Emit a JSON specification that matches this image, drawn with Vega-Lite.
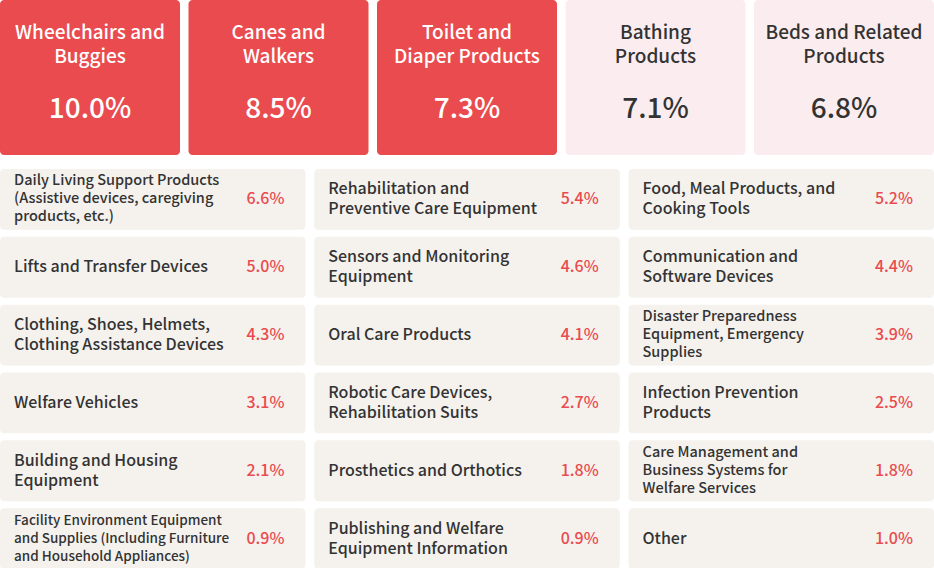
{
  "$schema": "https://vega.github.io/schema/vega-lite/v6.json",
  "padding": 0,
  "spacing": 13,
  "background": "#ffffff",
  "config": {"view": {"stroke": null}, "font": "Noto Sans CJK JP"},
  "datasets": {
    "top": [
      {"rank": 1, "label": "Wheelchairs and\nBuggies", "share": 0.100, "tier": "top3"},
      {"rank": 2, "label": "Canes and\nWalkers", "share": 0.085, "tier": "top3"},
      {"rank": 3, "label": "Toilet and\nDiaper Products", "share": 0.073, "tier": "top3"},
      {"rank": 4, "label": "Bathing\nProducts", "share": 0.071, "tier": "next"},
      {"rank": 5, "label": "Beds and Related\nProducts", "share": 0.068, "tier": "next"}
    ],
    "grid": [
      {"row": 1, "col": 1, "label": "Daily Living Support Products\n(Assistive devices, caregiving\nproducts, etc.)", "share": 0.066},
      {"row": 1, "col": 2, "label": "Rehabilitation and\nPreventive Care Equipment", "share": 0.054},
      {"row": 1, "col": 3, "label": "Food, Meal Products, and\nCooking Tools", "share": 0.052},
      {"row": 2, "col": 1, "label": "Lifts and Transfer Devices", "share": 0.050},
      {"row": 2, "col": 2, "label": "Sensors and Monitoring\nEquipment", "share": 0.046},
      {"row": 2, "col": 3, "label": "Communication and\nSoftware Devices", "share": 0.044},
      {"row": 3, "col": 1, "label": "Clothing, Shoes, Helmets,\nClothing Assistance Devices", "share": 0.043},
      {"row": 3, "col": 2, "label": "Oral Care Products", "share": 0.041},
      {"row": 3, "col": 3, "label": "Disaster Preparedness\nEquipment, Emergency\nSupplies", "share": 0.039},
      {"row": 4, "col": 1, "label": "Welfare Vehicles", "share": 0.031},
      {"row": 4, "col": 2, "label": "Robotic Care Devices,\nRehabilitation Suits", "share": 0.027},
      {"row": 4, "col": 3, "label": "Infection Prevention\nProducts", "share": 0.025},
      {"row": 5, "col": 1, "label": "Building and Housing\nEquipment", "share": 0.021},
      {"row": 5, "col": 2, "label": "Prosthetics and Orthotics", "share": 0.018},
      {"row": 5, "col": 3, "label": "Care Management and\nBusiness Systems for\nWelfare Services", "share": 0.018},
      {"row": 6, "col": 1, "label": "Facility Environment Equipment\nand Supplies (Including Furniture\nand Household Appliances)", "share": 0.009},
      {"row": 6, "col": 2, "label": "Publishing and Welfare\nEquipment Information", "share": 0.009},
      {"row": 6, "col": 3, "label": "Other", "share": 0.010}
    ]
  },
  "vconcat": [
    {
      "width": 934,
      "height": 155,
      "data": {"name": "top"},
      "encoding": {
        "x": {"field": "rank", "type": "ordinal", "axis": null, "scale": {"paddingInner": 0.045, "paddingOuter": 0}}
      },
      "layer": [
        {
          "mark": {"type": "rect", "cornerRadius": 4},
          "encoding": {
            "color": {"condition": {"test": "datum.tier == 'top3'", "value": "#E94B4E"}, "value": "#FBEDEF"}
          }
        },
        {
          "mark": {"type": "text", "baseline": "middle", "align": "center", "dy": -45, "fontSize": 19, "lineHeight": 24, "lineBreak": "\n", "fontWeight": 500},
          "encoding": {
            "text": {"field": "label"},
            "color": {"condition": {"test": "datum.tier == 'top3'", "value": "#ffffff"}, "value": "#333333"}
          }
        },
        {
          "mark": {"type": "text", "baseline": "middle", "align": "center", "dy": 32, "fontSize": 28, "fontWeight": 500},
          "encoding": {
            "text": {"field": "share", "type": "quantitative", "format": ".1%"},
            "color": {"condition": {"test": "datum.tier == 'top3'", "value": "#ffffff"}, "value": "#333333"}
          }
        }
      ]
    },
    {
      "width": 934,
      "height": 400,
      "data": {"name": "grid"},
      "encoding": {
        "x": {"field": "col", "type": "ordinal", "axis": null, "scale": {"paddingInner": 0.028, "paddingOuter": 0}},
        "y": {"field": "row", "type": "ordinal", "axis": null, "scale": {"paddingInner": 0.103, "paddingOuter": 0}}
      },
      "layer": [
        {
          "mark": {"type": "rect", "cornerRadius": 4, "color": "#F5F2EE"}
        },
        {
          "transform": [{"filter": "length(split(datum.label, '\\n')) == 1"}],
          "mark": {"type": "text", "align": "left", "baseline": "middle", "dx": 14, "fontSize": 16, "lineHeight": 20, "lineBreak": "\n", "fontWeight": 500, "color": "#333333"},
          "encoding": {
            "x": {"field": "col", "type": "ordinal", "bandPosition": 0},
            "text": {"field": "label"}
          }
        },
        {
          "transform": [{"filter": "length(split(datum.label, '\\n')) == 2"}],
          "mark": {"type": "text", "align": "left", "baseline": "middle", "dx": 14, "dy": -10, "fontSize": 16, "lineHeight": 20, "lineBreak": "\n", "fontWeight": 500, "color": "#333333"},
          "encoding": {
            "x": {"field": "col", "type": "ordinal", "bandPosition": 0},
            "text": {"field": "label"}
          }
        },
        {
          "transform": [{"filter": "length(split(datum.label, '\\n')) >= 3"}],
          "mark": {"type": "text", "align": "left", "baseline": "middle", "dx": 14, "dy": -18, "lineHeight": 18, "lineBreak": "\n", "fontWeight": 500, "color": "#333333"},
          "encoding": {
            "x": {"field": "col", "type": "ordinal", "bandPosition": 0},
            "text": {"field": "label"},
            "size": {"condition": {"test": "indexof(datum.label, 'Furniture') >= 0", "value": 13.5}, "value": 14.5}
          }
        },
        {
          "mark": {"type": "text", "align": "right", "baseline": "middle", "dx": -21, "fontSize": 16, "fontWeight": 500, "color": "#E94B4E"},
          "encoding": {
            "x": {"field": "col", "type": "ordinal", "bandPosition": 1},
            "text": {"field": "share", "type": "quantitative", "format": ".1%"}
          }
        }
      ]
    }
  ]
}
